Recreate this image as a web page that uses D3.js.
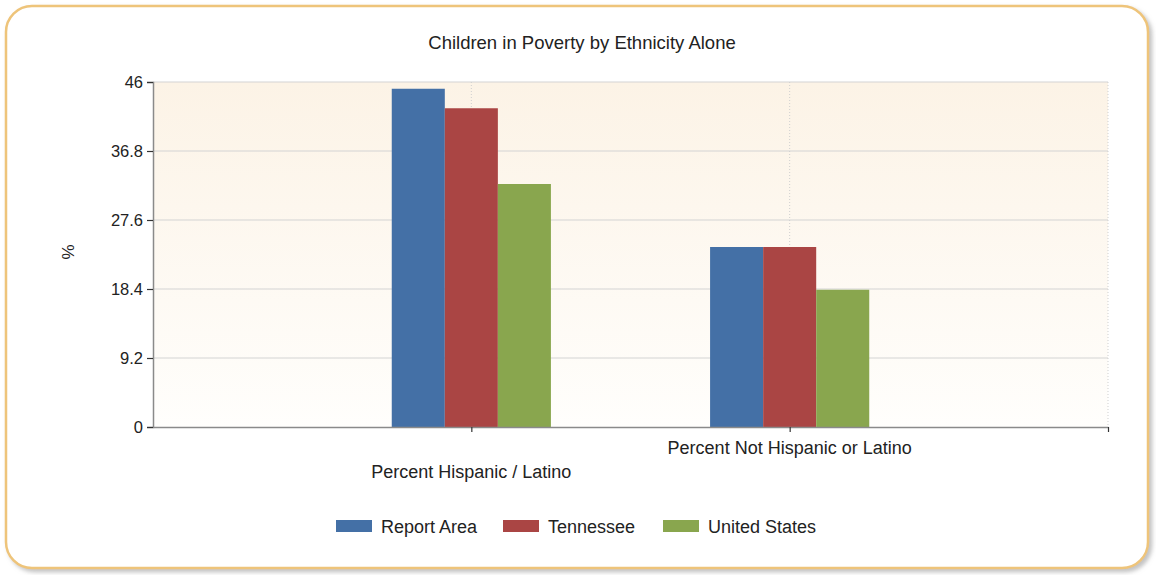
<!DOCTYPE html>
<html>
<head>
<meta charset="utf-8">
<script src="https://cdn.jsdelivr.net/npm/d3@7"></script>
<style>
  body { margin: 0; background: #fff; }
  svg { display: block; font-family: "Liberation Sans", Arial, sans-serif; }
</style>
</head>
<body>
<div id="chart"></div>
<script>
const categories = ["Percent Hispanic / Latino", "Percent Not Hispanic or Latino"];
const seriesNames = ["Report Area", "Tennessee", "United States"];
const reportArea = [45.1, 24.0];
const tennessee = [42.5, 24.0];
const unitedStates = [32.4, 18.3];
const yTicks = [0, 9.2, 18.4, 27.6, 36.8, 46];
const colors = ["#4470a6", "#aa4544", "#89a64e"];

const W = 1156, H = 575;
const margin = { left: 153, right: 48, top: 82, bottom: 148 };
const iw = W - margin.left - margin.right;
const ih = H - margin.top - margin.bottom;

const svg = d3.select("#chart").append("svg")
    .attr("width", W)
    .attr("height", H);

const defs = svg.append("defs");
const grad = defs.append("linearGradient")
    .attr("id", "plotbg").attr("x1", 0).attr("y1", 0).attr("x2", 0).attr("y2", 1);
grad.append("stop").attr("offset", "0%").attr("stop-color", "#fcf3e6");
grad.append("stop").attr("offset", "100%").attr("stop-color", "#fffefc");

const shadow = defs.append("filter").attr("id", "shadow")
    .attr("x", "-5%").attr("y", "-5%").attr("width", "110%").attr("height", "110%");
shadow.append("feDropShadow")
    .attr("dx", 3).attr("dy", 3).attr("stdDeviation", 2)
    .attr("flood-color", "#999").attr("flood-opacity", 0.6);

// frame
svg.append("rect")
    .attr("x", 6).attr("y", 6)
    .attr("width", 1142).attr("height", 562)
    .attr("rx", 26).attr("ry", 26)
    .attr("fill", "#fff")
    .attr("stroke", "#eec47a")
    .attr("stroke-width", 2.5)
    .attr("filter", "url(#shadow)");

svg.append("text")
    .attr("x", 582).attr("y", 49)
    .attr("text-anchor", "middle")
    .attr("font-size", 18.5)
    .attr("fill", "#222")
    .text("Children in Poverty by Ethnicity Alone");

const g = svg.append("g").attr("transform", `translate(${margin.left},${margin.top})`);

const y = d3.scaleLinear().domain([0, 46]).range([ih, 0]);
// categories sit at 1 and 2 on a 0..3 axis
const x = d3.scaleLinear().domain([0, 3]).range([0, iw]);
const groupW = x(0.5) - x(0);
const xs = d3.scaleBand().domain(seriesNames).range([-groupW / 2, groupW / 2]).padding(0);

g.append("rect")
    .attr("width", iw).attr("height", ih)
    .attr("fill", "url(#plotbg)");

// horizontal grid
g.append("g")
    .selectAll("line")
    .data(yTicks.filter(d => d > 0))
    .join("line")
    .attr("x1", 0).attr("x2", iw)
    .attr("y1", d => y(d)).attr("y2", d => y(d))
    .attr("stroke", "#d4d4d4")
    .attr("stroke-width", 1.2);

// vertical dotted grid
g.append("g")
    .selectAll("line")
    .data([1, 2, 3])
    .join("line")
    .attr("x1", d => x(d)).attr("x2", d => x(d))
    .attr("y1", 0).attr("y2", ih)
    .attr("stroke", "#cfcfcf")
    .attr("stroke-dasharray", "1,2");

const series = [reportArea, tennessee, unitedStates];
const bars = [];
categories.forEach((c, i) => {
    series.forEach((s, j) => bars.push({ cat: i + 1, name: seriesNames[j], value: s[i], color: colors[j] }));
});

g.append("g")
    .selectAll("rect")
    .data(bars)
    .join("rect")
    .attr("x", d => x(d.cat) + xs(d.name))
    .attr("y", d => y(d.value))
    .attr("width", xs.bandwidth())
    .attr("height", d => ih - y(d.value))
    .attr("fill", d => d.color);

// y axis
const yAxis = g.append("g")
    .call(d3.axisLeft(y).tickValues(yTicks).tickFormat(d => d).tickSize(6).tickPadding(4));
yAxis.select(".domain").attr("stroke", "#8a8a8a").attr("stroke-width", 1.5);
yAxis.selectAll(".tick line").attr("stroke", "#333").attr("stroke-width", 1.2);
yAxis.selectAll(".tick text")
    .attr("font-size", 16.5)
    .attr("fill", "#222")
    .attr("font-family", "Liberation Sans, Arial, sans-serif");

// x axis
const xAxis = g.append("g")
    .attr("transform", `translate(0,${ih})`)
    .call(d3.axisBottom(x).tickValues([1, 2, 3]).tickFormat("").tickSize(5).tickSizeOuter(0));
xAxis.select(".domain").attr("stroke", "#8a8a8a").attr("stroke-width", 1.5);
xAxis.selectAll(".tick line").attr("stroke", "#333").attr("stroke-width", 1.2);

g.append("g")
    .selectAll("text")
    .data(categories)
    .join("text")
    .attr("x", (d, i) => x(i + 1))
    .attr("y", (d, i) => ih + (i === 0 ? 51 : 27))
    .attr("text-anchor", "middle")
    .attr("font-size", 18)
    .attr("fill", "#222")
    .text(d => d);

svg.append("text")
    .attr("transform", "translate(74,252) rotate(-90)")
    .attr("text-anchor", "middle")
    .attr("font-size", 17)
    .attr("fill", "#222")
    .text("%");

// legend
const legendX = [336, 503, 663];
const legend = svg.append("g")
    .selectAll("g")
    .data(seriesNames)
    .join("g")
    .attr("transform", (d, i) => `translate(${legendX[i]},520)`);
legend.append("rect")
    .attr("width", 36).attr("height", 12)
    .attr("fill", (d, i) => colors[i]);
legend.append("text")
    .attr("x", 45).attr("y", 12.5)
    .attr("font-size", 18)
    .attr("fill", "#222")
    .text(d => d);
</script>
</body>
</html>
